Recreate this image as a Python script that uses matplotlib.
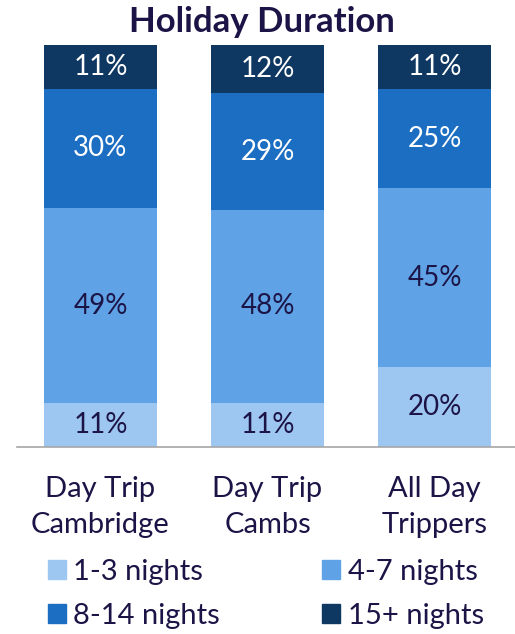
import numpy as np
import matplotlib
matplotlib.use("Agg")
import matplotlib.pyplot as plt
from matplotlib.patches import Patch

plt.rcParams['font.family'] = ['Lato', 'DejaVu Sans']

# Data
categories = ["Day Trip\nCambridge", "Day Trip\nCambs", "All Day\nTrippers"]
series_names = ["1-3 nights", "4-7 nights", "8-14 nights", "15+ nights"]
nights_1_3 = [11, 11, 20]
nights_4_7 = [49, 48, 45]
nights_8_14 = [30, 29, 25]
nights_15p = [11, 12, 11]

colors = ["#9DC6F0", "#5FA3E6", "#1B6EC2", "#0E3761"]
label_colors = ["#1C1446", "#1C1446", "white", "white"]
text_color = "#1C1446"

series = np.array([nights_1_3, nights_4_7, nights_8_14, nights_15p], dtype=float)
# 100% stacked: scale each column to its total
shares = series / series.sum(axis=0) * 100

fig = plt.figure(figsize=(5.15, 6.34), dpi=100)
ax = fig.add_axes([17 / 515, 1 - 447 / 634, 501 / 515, 402 / 634])

x = np.arange(len(categories))
bottom = np.zeros(len(categories))
for i, name in enumerate(series_names):
    ax.bar(x, shares[i], 0.68, bottom=bottom, color=colors[i], label=name)
    for j in range(len(categories)):
        ax.text(x[j], bottom[j] + shares[i][j] / 2, f"{int(series[i][j])}%",
                ha="center", va="center", fontsize=20, color=label_colors[i])
    bottom += shares[i]

ax.set_xlim(-0.5, 2.5)
ax.set_ylim(0, 100)
ax.set_yticks([])
ax.set_xticks(x)
ax.set_xticklabels(categories, fontsize=21, color=text_color, linespacing=1.45)
ax.tick_params(axis="x", length=0, pad=21)
for s in ["top", "left", "right"]:
    ax.spines[s].set_visible(False)
ax.spines["bottom"].set_color("#A6A6A6")
ax.spines["bottom"].set_linewidth(1.2)

fig.text(0.508, 1 - 22 / 634, "Holiday Duration", ha="center", va="center",
         fontsize=25, fontweight="bold", color=text_color)

handles = [Patch(color=c, label=n) for c, n in zip(colors, series_names)]
order = [0, 2, 1, 3]
fig.legend([handles[k] for k in order], [series_names[k] for k in order],
           ncols=2, loc="upper left", bbox_to_anchor=(48 / 515, 1 - 559 / 634),
           frameon=False, fontsize=21, labelcolor=text_color, borderpad=0,
           borderaxespad=0,
           handlelength=0.62, handleheight=0.62, handletextpad=0.25,
           columnspacing=3.5, labelspacing=0.62)

fig.savefig("out.png", dpi=100)
